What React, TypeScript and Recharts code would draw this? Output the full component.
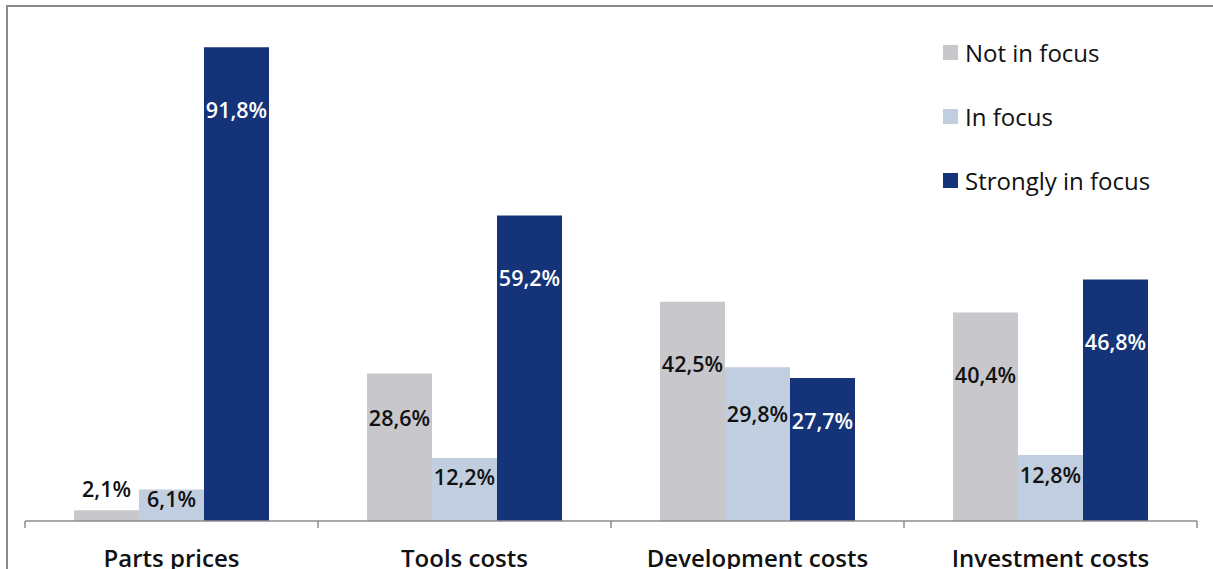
import { BarChart, Bar, XAxis, YAxis, LabelList } from "recharts";

const categories = ["Parts prices", "Tools costs", "Development costs", "Investment costs"];
const notInFocus = [2.1, 28.6, 42.5, 40.4];
const inFocus = [6.1, 12.2, 29.8, 12.8];
const stronglyInFocus = [91.8, 59.2, 27.7, 46.8];

const SERIES = [
  { key: "notInFocus", name: "Not in focus", color: "#C8C7CC", text: "#111" },
  { key: "inFocus", name: "In focus", color: "#C0CEDF", text: "#111" },
  { key: "stronglyInFocus", name: "Strongly in focus", color: "#153378", text: "#fff" },
];

const data = categories.map((name, i) => ({
  name,
  notInFocus: notInFocus[i],
  inFocus: inFocus[i],
  stronglyInFocus: stronglyInFocus[i],
}));

const W = 1213;
const H = 569;
const AXIS_H = 48;
const M = { top: 5, right: 16, left: 25, bottom: 0 };
const BAND = (W - M.left - M.right) / categories.length;
const AXIS_Y = H - AXIS_H;
const FONT = "'Open Sans', sans-serif";

const fmt = (v: number) => v.toFixed(1).replace(".", ",") + "%";

function makeLabel(textColor: string) {
  return (props: any) => {
    const { x, y, width, height, value } = props;
    const cx = x + width / 2;
    let ty: number;
    let fill = textColor;
    if (height < 20) {
      ty = y - 22;
      fill = "#111";
    } else {
      ty = y + Math.min(height * 0.3, 62);
    }
    return (
      <text x={cx} y={ty} textAnchor="middle" dominantBaseline="central" fill={fill}
        fontFamily={FONT} fontSize={21.5} fontWeight={600}>
        {fmt(value)}
      </text>
    );
  };
}

function CategoryTick(props: any) {
  const { x, payload, index } = props;
  const left = x - BAND / 2;
  return (
    <g>
      <line x1={left} y1={AXIS_Y} x2={left} y2={AXIS_Y + 7} stroke="#8c8c8c" strokeWidth={1.5} />
      {index === categories.length - 1 && (
        <line x1={x + BAND / 2} y1={AXIS_Y} x2={x + BAND / 2} y2={AXIS_Y + 7} stroke="#8c8c8c" strokeWidth={1.5} />
      )}
      <text x={x} y={AXIS_Y + 36} textAnchor="middle" dominantBaseline="central" fill="#111"
        fontFamily={FONT} fontSize={24} fontWeight={600}>
        {payload.value}
      </text>
    </g>
  );
}

export default function App() {
  return (
    <div style={{ position: "absolute", left: 0, top: 0, width: W, height: H, overflow: "hidden", background: "#fff" }}>
      <div style={{ position: "absolute", left: 6, top: 5, width: W, height: H, borderTop: "2px solid #8a8a8a", borderLeft: "2px solid #8a8a8a" }} />
      <BarChart width={W} height={H} data={data} margin={M} barGap={0} barCategoryGap="16.7%">
        <XAxis dataKey="name" axisLine={{ stroke: "#8c8c8c", strokeWidth: 1.5 }} tickLine={false} tick={<CategoryTick />} interval={0} height={AXIS_H} />
        <YAxis hide domain={[0, 100]} />
        {SERIES.map((s) => (
          <Bar key={s.key} dataKey={s.key} name={s.name} fill={s.color} barSize={65} isAnimationActive={false}>
            <LabelList dataKey={s.key} content={makeLabel(s.text)} />
          </Bar>
        ))}
      </BarChart>
      <div style={{ position: "absolute", left: 943, top: 20, fontFamily: FONT }}>
        {SERIES.map((s) => (
          <div key={s.key} style={{ display: "flex", alignItems: "center", height: 64 }}>
            <span style={{ width: 15, height: 15, background: s.color, marginRight: 7, display: "inline-block" }} />
            <span style={{ fontSize: 24, color: "#111" }}>{s.name}</span>
          </div>
        ))}
      </div>
    </div>
  );
}
